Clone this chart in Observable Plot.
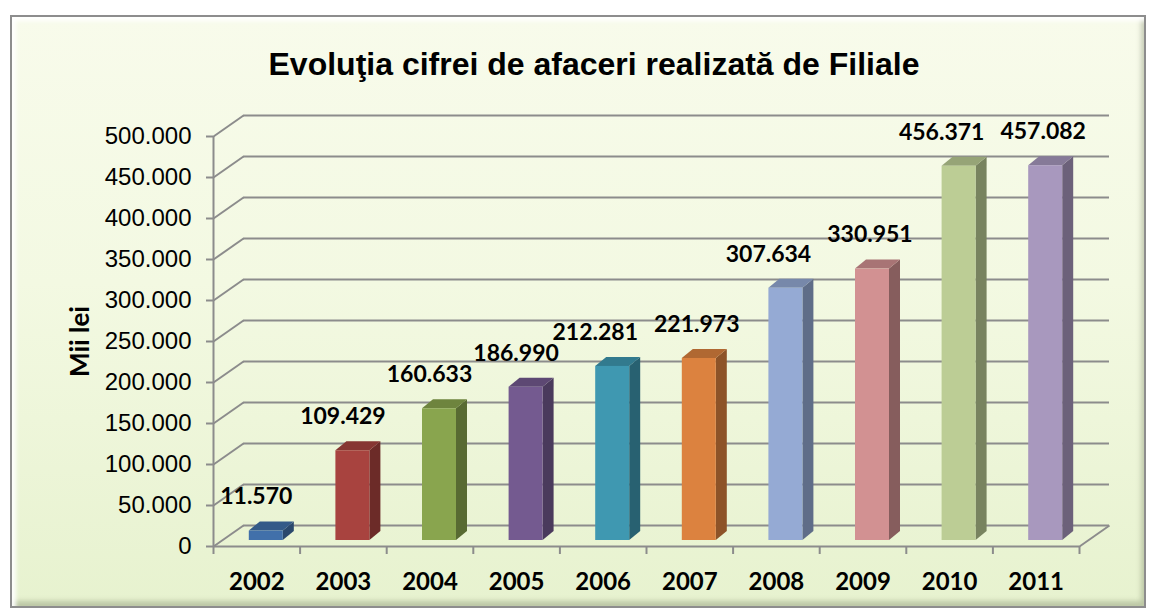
<!DOCTYPE html>
<html>
<head>
<meta charset="utf-8">
<script src="https://cdn.jsdelivr.net/npm/d3@7"></script>
<script src="https://cdn.jsdelivr.net/npm/@observablehq/plot@0.6"></script>
<style>
  html, body { margin: 0; padding: 0; background: #ffffff; }
  body { position: relative; width: 1151px; height: 612px; overflow: hidden; }
  #frame {
    position: absolute; left: 10px; top: 15px; width: 1132px; height: 589px;
    border: 2px solid #8d8d8d;
    background: linear-gradient(to bottom, #f8fbeb 0%, #f3f9e2 45%, #e7f2cf 100%);
    box-shadow: inset 4px 4px 4px rgba(255,255,255,0.95), inset -3px -5px 5px rgba(110,120,90,0.35);
  }
  #title {
    position: absolute; left: 0; top: 48px; width: 1188px; text-align: center;
    font-family: "Liberation Sans", Arial, sans-serif; font-weight: bold;
    font-size: 32px; line-height: 32px; color: #000;
  }
  #chart { position: absolute; left: 0; top: 90px; }
</style>
</head>
<body>
<div id="frame"></div>
<div id="title">Evoluţia cifrei de afaceri realizată de Filiale</div>
<div id="chart"></div>
<script>
// ---- data ----
const years  = ["2002", "2003", "2004", "2005", "2006", "2007", "2008", "2009", "2010", "2011"];
const values = [11570, 109429, 160633, 186990, 212281, 221973, 307634, 330951, 456371, 457082];
const yTicks = [0, 50000, 100000, 150000, 200000, 250000, 300000, 350000, 400000, 450000, 500000];
const yTitle = "Mii lei";
const barColors = ["#4170aa", "#a8433f", "#89a54e", "#745a90", "#3f98b1",
                   "#dc823f", "#95aad4", "#d29192", "#bccd95", "#a898be"];

// ---- layout ----
const W = 1151, H = 522, ML = 213, MR = 72, MT = 46, MB = 66;
const n = years.length;
const yMax = yTicks[yTicks.length - 1];
const kx = n / (W - ML - MR);      // x data units per pixel
const ky = yMax / (H - MT - MB);   // y data units per pixel
const WALL = {dx: 30, dy: 21};     // depth of the 3D box, px
const BAR = {w: 34, offX: 9.5, offY: 6, dx: 11, dy: 9}; // bar geometry, px
const LABEL = {dx: -10, dy: 34, size: 23, gap: 16, rowH: 20};
const labelFont = "Lato, sans-serif";
const gridColor = "#8c8c8c";

const loc = d3.formatLocale({decimal: ",", thousands: ".", grouping: [3], currency: ["", ""]});
const fmt = loc.format(",d");

const shade = (c, k) => { const o = d3.rgb(c); return d3.rgb(o.r * k, o.g * k, o.b * k).formatHex(); };

const bw = BAR.w * kx;
const bars = years.map((year, i) => ({
  year, i, v: values[i], c: barColors[i],
  xl: i + 0.5 - bw / 2, xr: i + 0.5 + bw / 2, shift: 0
}));

// simple neighbour repel for value labels that would collide
const ctx = document.createElement("canvas").getContext("2d");
ctx.font = `bold ${LABEL.size}px ${labelFont}`;
for (let i = 1; i < bars.length; i++) {
  const a = bars[i - 1], b = bars[i];
  const dyPx = Math.abs(b.v - a.v) / ky;
  if (dyPx >= LABEL.rowH) continue;
  const need = (ctx.measureText(fmt(a.v)).width + ctx.measureText(fmt(b.v)).width) / 2 + LABEL.gap;
  const have = (1 + b.shift / 1 - a.shift) / kx; // centre distance in px (shifts in px)
  const dist = 1 / kx + b.shift - a.shift;
  if (dist < need) { const d = (need - dist) / 2; a.shift -= d; b.shift += d; }
}

const sides = bars.flatMap(b => [
  {year: b.year, x: b.xr, y1: 0, y2: b.v, c: shade(b.c, 0.64)},
  {year: b.year, x: b.xr + BAR.dx * kx, y1: BAR.dy * ky, y2: b.v + BAR.dy * ky, c: shade(b.c, 0.64)}
]);
const tops = bars.flatMap(b => [
  {year: b.year, y: b.v, x1: b.xl, x2: b.xr, c: shade(b.c, 0.8)},
  {year: b.year, y: b.v + BAR.dy * ky, x1: b.xl + BAR.dx * kx, x2: b.xr + BAR.dx * kx, c: shade(b.c, 0.8)}
]);

const wx = WALL.dx * kx, wy = WALL.dy * ky;

const chart = Plot.plot({
  width: W, height: H,
  marginLeft: ML, marginRight: MR, marginTop: MT, marginBottom: MB,
  style: {background: "transparent", overflow: "visible"},
  x: {type: "linear", domain: [0, n], axis: null},
  y: {type: "linear", domain: [0, yMax], axis: null},
  color: {type: "identity"},
  marks: [
    // back wall gridlines
    Plot.ruleY(yTicks, {x1: wx, x2: n + wx, y: d => d + wy, stroke: gridColor, strokeWidth: 2}),
    // side wall diagonals
    Plot.link(yTicks, {x1: 0, y1: d => d, x2: wx, y2: d => d + wy, stroke: gridColor, strokeWidth: 2}),
    // floor right edge
    Plot.link([0], {x1: n, y1: 0, x2: n + wx, y2: wy, stroke: gridColor, strokeWidth: 2}),
    // front axis lines
    Plot.ruleX([0], {y1: 0, y2: yMax, stroke: gridColor, strokeWidth: 2}),
    Plot.ruleY([0], {x1: 0, x2: n, stroke: gridColor, strokeWidth: 2}),
    // axes
    Plot.axisY(yTicks, {
      tickSize: 7, tickPadding: 15, stroke: gridColor, strokeWidth: 2, fill: "#000",
      fontSize: 24, fontFamily: "'Liberation Sans', Arial, sans-serif",
      tickFormat: fmt, label: null
    }),
    Plot.axisX(d3.range(n + 1), {
      tickSize: 8, stroke: gridColor, strokeWidth: 2, tickFormat: () => "", label: null
    }),
    Plot.text(years, {
      x: (d, i) => i + 0.5, frameAnchor: "bottom", dy: 36, text: d => d,
      fontSize: 24, fontWeight: "bold", fontFamily: labelFont, fill: "#000", lineAnchor: "middle"
    }),
    Plot.text([yTitle], {
      frameAnchor: "left", dx: -133, rotate: -90, text: d => d,
      fontSize: 26, fontWeight: "bold", fontFamily: labelFont, fill: "#000",
      lineAnchor: "middle", textAnchor: "middle"
    }),
    // bars: side, top, front
    Plot.areaY(sides, {x: "x", y1: "y1", y2: "y2", z: "year", fill: "c", dx: BAR.offX, dy: -BAR.offY}),
    Plot.areaX(tops, {y: "y", x1: "x1", x2: "x2", z: "year", fill: "c", dx: BAR.offX, dy: -BAR.offY}),
    Plot.rect(bars, {x1: "xl", x2: "xr", y1: 0, y2: "v", fill: "c", dx: BAR.offX, dy: -BAR.offY}),
    // value labels
    Plot.text(bars, {
      x: d => d.i + 0.5 + d.shift * kx, y: "v", text: d => fmt(d.v),
      dx: BAR.offX + LABEL.dx, dy: -(BAR.offY + LABEL.dy),
      fontSize: LABEL.size, fontWeight: "bold", fontFamily: labelFont, fill: "#000", lineAnchor: "middle"
    })
  ]
});
document.getElementById("chart").appendChild(chart);
</script>
</body>
</html>
